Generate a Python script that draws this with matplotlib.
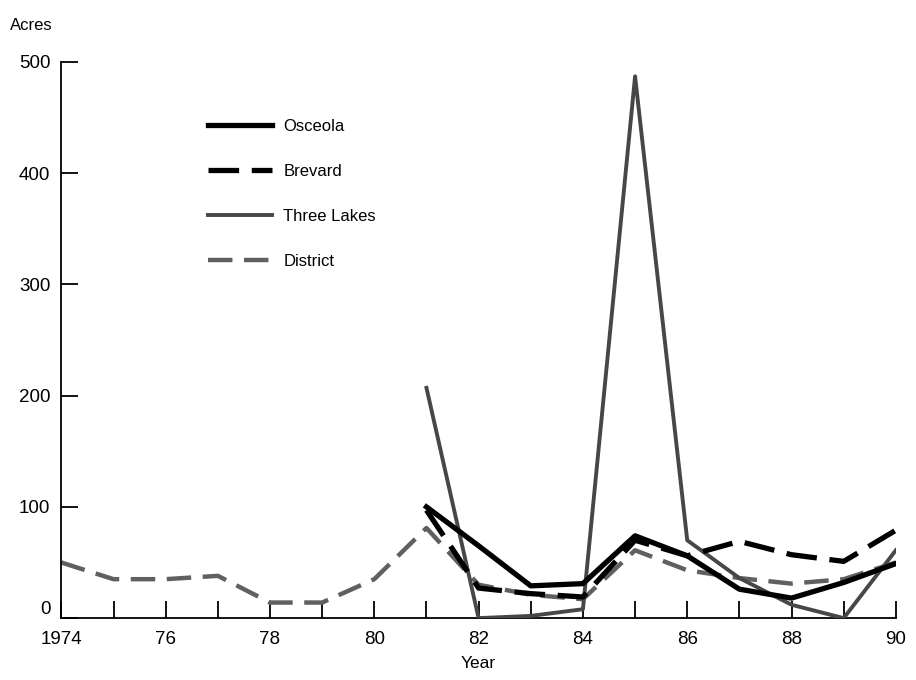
"""Acres by year for Osceola, Brevard, Three Lakes and the district, 1974-90."""

import matplotlib

matplotlib.use("Agg")
import matplotlib.pyplot as plt

plt.rcParams["font.family"] = ["Liberation Sans", "DejaVu Sans"]

# District has the full record, the others start in 1981.
district_years = list(range(1974, 1991))
district = [50, 35, 35, 38, 14, 14, 35, 81, 30, 21, 17, 61, 43, 36, 31, 35, 50]

unit_years = list(range(1981, 1991))
osceola = [100, 65, 29, 31, 74, 56, 26, 18, 32, 49]
brevard = [97, 27, 22, 19, 70, 56, 69, 57, 51, 79]
three_lakes = [207, 0, 2, 8, 487, 70, 36, 12, 0, 61]

x_ticks = list(range(1974, 1991))
x_labels = ["1974", "", "76", "", "78", "", "80", "", "82", "", "84", "", "86", "", "88", "", "90"]
y_ticks = [0, 100, 200, 300, 400, 500]


def main() -> None:
    fig = plt.figure(figsize=(9.16, 6.8), dpi=100)
    ax = fig.add_axes([0.067, 0.091, 0.911, 0.818])

    ax.plot(district_years, district, color="#606060", lw=3.2,
            dashes=(5.5, 2.6), label="District", zorder=2)
    ax.plot(unit_years, three_lakes, color="#474747", lw=2.8,
            label="Three Lakes", zorder=3)
    ax.plot(unit_years, brevard, color="black", lw=3.8,
            dashes=(5.8, 2.4), label="Brevard", zorder=4)
    ax.plot(unit_years, osceola, color="black", lw=3.8,
            label="Osceola", zorder=5)

    ax.set_xlim(1974, 1990)
    ax.set_ylim(0, 500)
    ax.set_xticks(x_ticks)
    ax.set_xticklabels(x_labels)
    ax.set_yticks(y_ticks)
    ax.tick_params(axis="both", direction="in", length=12, width=1.3,
                   labelsize=13.5, color="black")
    ax.tick_params(axis="x", pad=9)
    ax.tick_params(axis="y", pad=8)
    for lbl in ax.get_yticklabels()[:1]:
        lbl.set_verticalalignment("bottom")
    ax.spines["top"].set_visible(False)
    ax.spines["right"].set_visible(False)
    for side in ("left", "bottom"):
        ax.spines[side].set_linewidth(1.3)

    ax.set_xlabel("Year", fontsize=12.5, labelpad=6)
    fig.text(0.011, 0.963, "Acres", fontsize=12, ha="left", va="center")

    handles, labels = ax.get_legend_handles_labels()
    order = [3, 2, 1, 0]
    ax.legend([handles[i] for i in order], [labels[i] for i in order],
              loc="upper left", bbox_to_anchor=(0.158, 0.925), frameon=False,
              fontsize=12, handlelength=3.8, handletextpad=0.7,
              labelspacing=1.8)

    fig.savefig("out.png", dpi=100)
    plt.close(fig)


if __name__ == "__main__":
    main()
